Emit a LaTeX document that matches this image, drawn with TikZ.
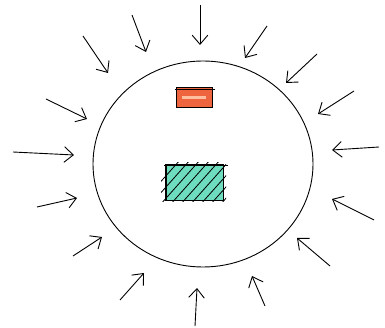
\documentclass[tikz,border=0pt]{standalone}
\usetikzlibrary{arrows.meta}
\definecolor{teal1}{RGB}{110,220,190}
\definecolor{redf}{RGB}{238,100,62}
\definecolor{redl}{RGB}{255,190,160}
\tikzset{
  inarrow/.style={line width=0.9pt,-{Straight Barb[length=3.2mm,width=5.5mm,line width=0.9pt]}},
  outline/.style={draw=black,line width=0.9pt}
}
\begin{document}
\begin{tikzpicture}[x=1pt,y=-1pt]
\useasboundingbox[fill=white] (0,0) rectangle (385,328);
% cell
\node[outline,ellipse/.style={},circle,minimum size=206pt,inner sep=0pt,draw=none] (cell) at (203,164) {};
\draw[outline] (cell.center) ellipse [x radius=110, y radius=103];
% red rectangle
\node[outline,fill=redf,minimum width=36pt,minimum height=20pt,inner sep=0pt] (red) at (194,97) {};
\fill[redl] (182,96) rectangle (206,99);
\draw[line width=0.8pt] (red.north west) ++(-1,3) -- ++(40,0);
% green hatched rectangle
\node[outline,fill=teal1,minimum width=57pt,minimum height=35pt,inner sep=0pt] (green) at (194.5,182.5) {};
\begin{scope}
\clip (161,163) rectangle (226,202);
\foreach \i in {0,...,9} {
  \draw[line width=0.8pt] (140+\i*10,205) -- (140+\i*10+40,160);
}
\end{scope}
\draw[outline] (green.north west) rectangle (green.south east);
\draw[line width=0.8pt] (164,165) -- (228,165);
% arrows
\foreach \n/\ax/\ay/\bx/\by in {
 a1/200/5/200/45,
 a2/132/15/146/52,
 a3/83/36/108/73,
 a4/267/26/245/58,
 a5/317/54/286/83,
 a6/354/91/318/114,
 a7/379/147/332/150,
 a8/374/220/332/199,
 a9/330/266/297/238,
 a10/265/306/252/276,
 a11/195/326/197/288,
 a12/120/300/144/273,
 a13/73/256/102/237,
 a14/37/207/77/198,
 a15/13/152/74/155,
 a16/46/99/87/119} {
  \coordinate (\n t) at (\ax,\ay);
  \coordinate (\n h) at (\bx,\by);
  \draw[inarrow] (\n t) -- (\n h);
}
\end{tikzpicture}
\end{document}
